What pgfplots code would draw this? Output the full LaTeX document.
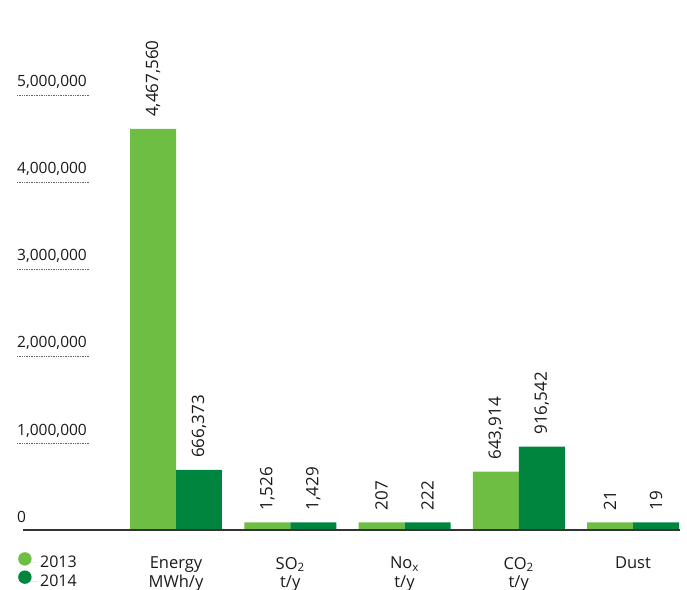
\documentclass[border=0pt]{standalone}
\usepackage{pgfplots}
\usepackage{pgfplotstable}
\pgfplotsset{compat=1.18}
\usepackage{fontspec}
\setmainfont{Open Sans}
\definecolor{lightg}{HTML}{6FBE44}
\definecolor{darkg}{HTML}{00853F}
\definecolor{txt}{HTML}{1A1A1A}
\pgfplotstableread{
x h13 v13 h14 v14
0 4610000 4,467,560 690000 666,373
1 88000 1,526 88000 1,429
2 88000 207 88000 222
3 670000 643,914 957000 916,542
4 88000 21 88000 19
}\datatable
\begin{document}
\begin{tikzpicture}
\begin{axis}[
  scale only axis,
  width=663bp, height=530bp,
  xmin=-1.3917, xmax=4.4114,
  ymin=0, ymax=6091954,
  enlargelimits=false,
  clip=false,
  axis line style={draw=none},
  ytick={0,1000000,2000000,3000000,4000000,5000000},
  major tick length=0pt,
  tick style={draw=none},
  scaled y ticks=false,
  yticklabel style={/pgf/number format/.cd, fixed, 1000 sep={,}, assume math mode=true, /tikz/.cd,
    anchor=base west, inner sep=0pt, yshift=8bp, text=txt,
    font=\fontsize{15.5bp}{18bp}\selectfont},
  xtick={0,1,2,3,4},
  xticklabels={{Energy\\MWh/y},{SO\textsubscript{2}\\t/y},{No\textsubscript{x}\\t/y},{CO\textsubscript{2}\\t/y},{Dust}},
  xticklabel style={align=center, anchor=north, inner sep=0pt, yshift=-27bp, text=txt,
    font=\fontsize{16.5bp}{18.5bp}\selectfont},
  ybar, bar width=0.4026,
  nodes near coords,
  point meta=explicit symbolic,
  every node near coord/.append style={rotate=90, anchor=west, inner sep=0pt, xshift=12bp, text=txt,
    font=\fontsize{17bp}{20bp}\selectfont},
  legend style={at={(axis description cs:0.0015,-0.0415)}, anchor=north west, draw=none, fill=none,
    inner sep=0pt, row sep=-1bp, font=\fontsize{16bp}{19bp}\selectfont, text=txt},
  legend cell align=left,
]
\addplot[fill=lightg, draw=none, bar shift=-0.2013,
  legend image code/.code={\fill[lightg] (6.7bp,4bp) circle (6.7bp); \path (0,0) -- (20bp,0);}]
  table[x=x, y=h13, meta=v13]{\datatable};
\addplot[fill=darkg, draw=none, bar shift=0.2013,
  legend image code/.code={\fill[darkg] (6.7bp,4bp) circle (6.7bp); \path (0,0) -- (20bp,0);}]
  table[x=x, y=h14, meta=v14]{\datatable};
\legend{2013,2014}
\pgfplotsinvokeforeach{1,2,3,4,5}{
  \draw[draw=gray!80!black, line width=0.6bp, dash pattern=on 0.6bp off 1.1bp]
    (axis cs:-1.3917,#1000000) -- (axis cs:-0.7527,#1000000);
}
\draw[line width=1.4bp, color=black!80] (axis cs:-1.339,0) -- (axis cs:4.4114,0);
\coordinate (bl) at (rel axis cs:0,0);
\coordinate (tr) at (rel axis cs:1,1);
\end{axis}
\pgfresetboundingbox
\path[use as bounding box] ([xshift=-17bp,yshift=-60bp]bl) rectangle ([xshift=7bp]tr);
\end{tikzpicture}
\end{document}
